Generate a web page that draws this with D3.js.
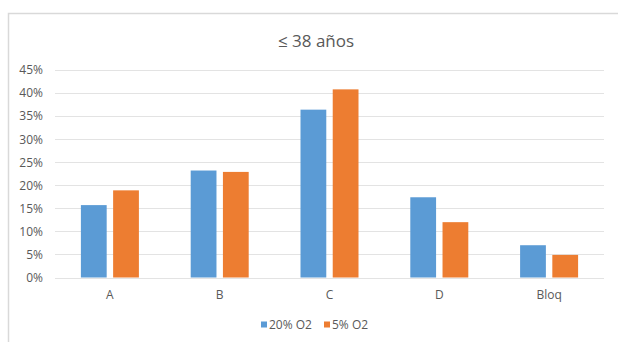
<!DOCTYPE html>
<html>
<head>
<meta charset="utf-8">
<script src="https://cdn.jsdelivr.net/npm/d3@7"></script>
<style>
  html, body { margin: 0; padding: 0; background: #fff; }
  svg { display: block; font-family: "Open Sans", "Liberation Sans", sans-serif; }
</style>
</head>
<body>
<svg id="chart" width="618" height="342"></svg>
<script>
// Categories and series
const categories = ["A", "B", "C", "D", "Bloq"];
const seriesNames = ["20% O2", "5% O2"];
const seriesColors = ["#5b9bd5", "#ed7d31"];
const values20 = [15.7, 23.2, 36.4, 17.4, 7.0];
const values5 = [18.9, 22.9, 40.8, 12.0, 4.9];
const yTicks = [0, 5, 10, 15, 20, 25, 30, 35, 40, 45];
const title = "≤ 38 años";

const svg = d3.select("#chart");
const W = 618, H = 342;
const plot = { left: 55, right: 604, top: 70, bottom: 277.5 };

// Chart area frame (left and top edges)
svg.append("path")
  .attr("d", `M8.5,${H} L8.5,13.5 L${W},13.5`)
  .attr("fill", "none")
  .attr("stroke", "#d9d9d9")
  .attr("stroke-width", 1.5);

const x = d3.scaleBand().domain(categories).range([plot.left, plot.right]).paddingInner(0).paddingOuter(0);
const x1 = d3.scaleBand().domain(seriesNames).range([0, 58]).paddingInner(0.2);
const y = d3.scaleLinear().domain([0, 45]).range([plot.bottom, plot.top]);

// Horizontal gridlines
svg.append("g")
  .selectAll("line")
  .data(yTicks)
  .join("line")
  .attr("x1", plot.left)
  .attr("x2", plot.right)
  .attr("y1", d => Math.round(y(d)) + 0.5)
  .attr("y2", d => Math.round(y(d)) + 0.5)
  .attr("stroke", "#e3e3e3")
  .attr("stroke-width", 1);

// Y axis labels
const yAxis = d3.axisLeft(y).tickValues(yTicks).tickFormat(d => d + "%").tickSize(0).tickPadding(0);
const gy = svg.append("g").attr("transform", `translate(${plot.left - 12},0)`).call(yAxis);
gy.select(".domain").remove();
gy.selectAll("text")
  .attr("fill", "#595959")
  .style("font-size", "12px")
  .style("font-family", "'Open Sans', sans-serif");

// X axis labels
const xAxis = d3.axisBottom(x).tickSize(0).tickPadding(0);
const gx = svg.append("g").attr("transform", `translate(0,${plot.bottom + 13})`).call(xAxis);
gx.select(".domain").remove();
gx.selectAll("text")
  .attr("fill", "#595959")
  .style("font-size", "12px")
  .style("font-family", "'Open Sans', sans-serif");

// Bars
const rows = categories.map((c, i) => ({ cat: c, vals: [values20[i], values5[i]] }));
const groups = svg.append("g").selectAll("g")
  .data(rows)
  .join("g")
  .attr("transform", d => `translate(${x(d.cat) + x.bandwidth() / 2 - 29},0)`);

groups.selectAll("rect")
  .data(d => d.vals.map((v, j) => ({ name: seriesNames[j], v, j })))
  .join("rect")
  .attr("x", d => x1(d.name))
  .attr("width", x1.bandwidth())
  .attr("y", d => y(d.v))
  .attr("height", d => y(0) - y(d.v))
  .attr("fill", d => seriesColors[d.j]);

// Title
svg.append("text")
  .attr("x", 316)
  .attr("y", 47)
  .attr("text-anchor", "middle")
  .attr("fill", "#595959")
  .style("font-size", "17px")
  .style("font-family", "'Open Sans', sans-serif")
  .text(title);

// Legend
const legend = svg.append("g").attr("transform", "translate(261,325)");
const legendX = [0, 63];
seriesNames.forEach((name, j) => {
  const g = legend.append("g").attr("transform", `translate(${legendX[j]},0)`);
  g.append("rect").attr("x", 0).attr("y", -3.5).attr("width", 6).attr("height", 6).attr("fill", seriesColors[j]);
  g.append("text")
    .attr("x", 8)
    .attr("y", 0)
    .attr("dy", "0.35em")
    .attr("fill", "#595959")
    .style("font-size", "12px")
    .style("font-family", "'Open Sans', sans-serif")
    .text(name);
});
</script>
</body>
</html>
